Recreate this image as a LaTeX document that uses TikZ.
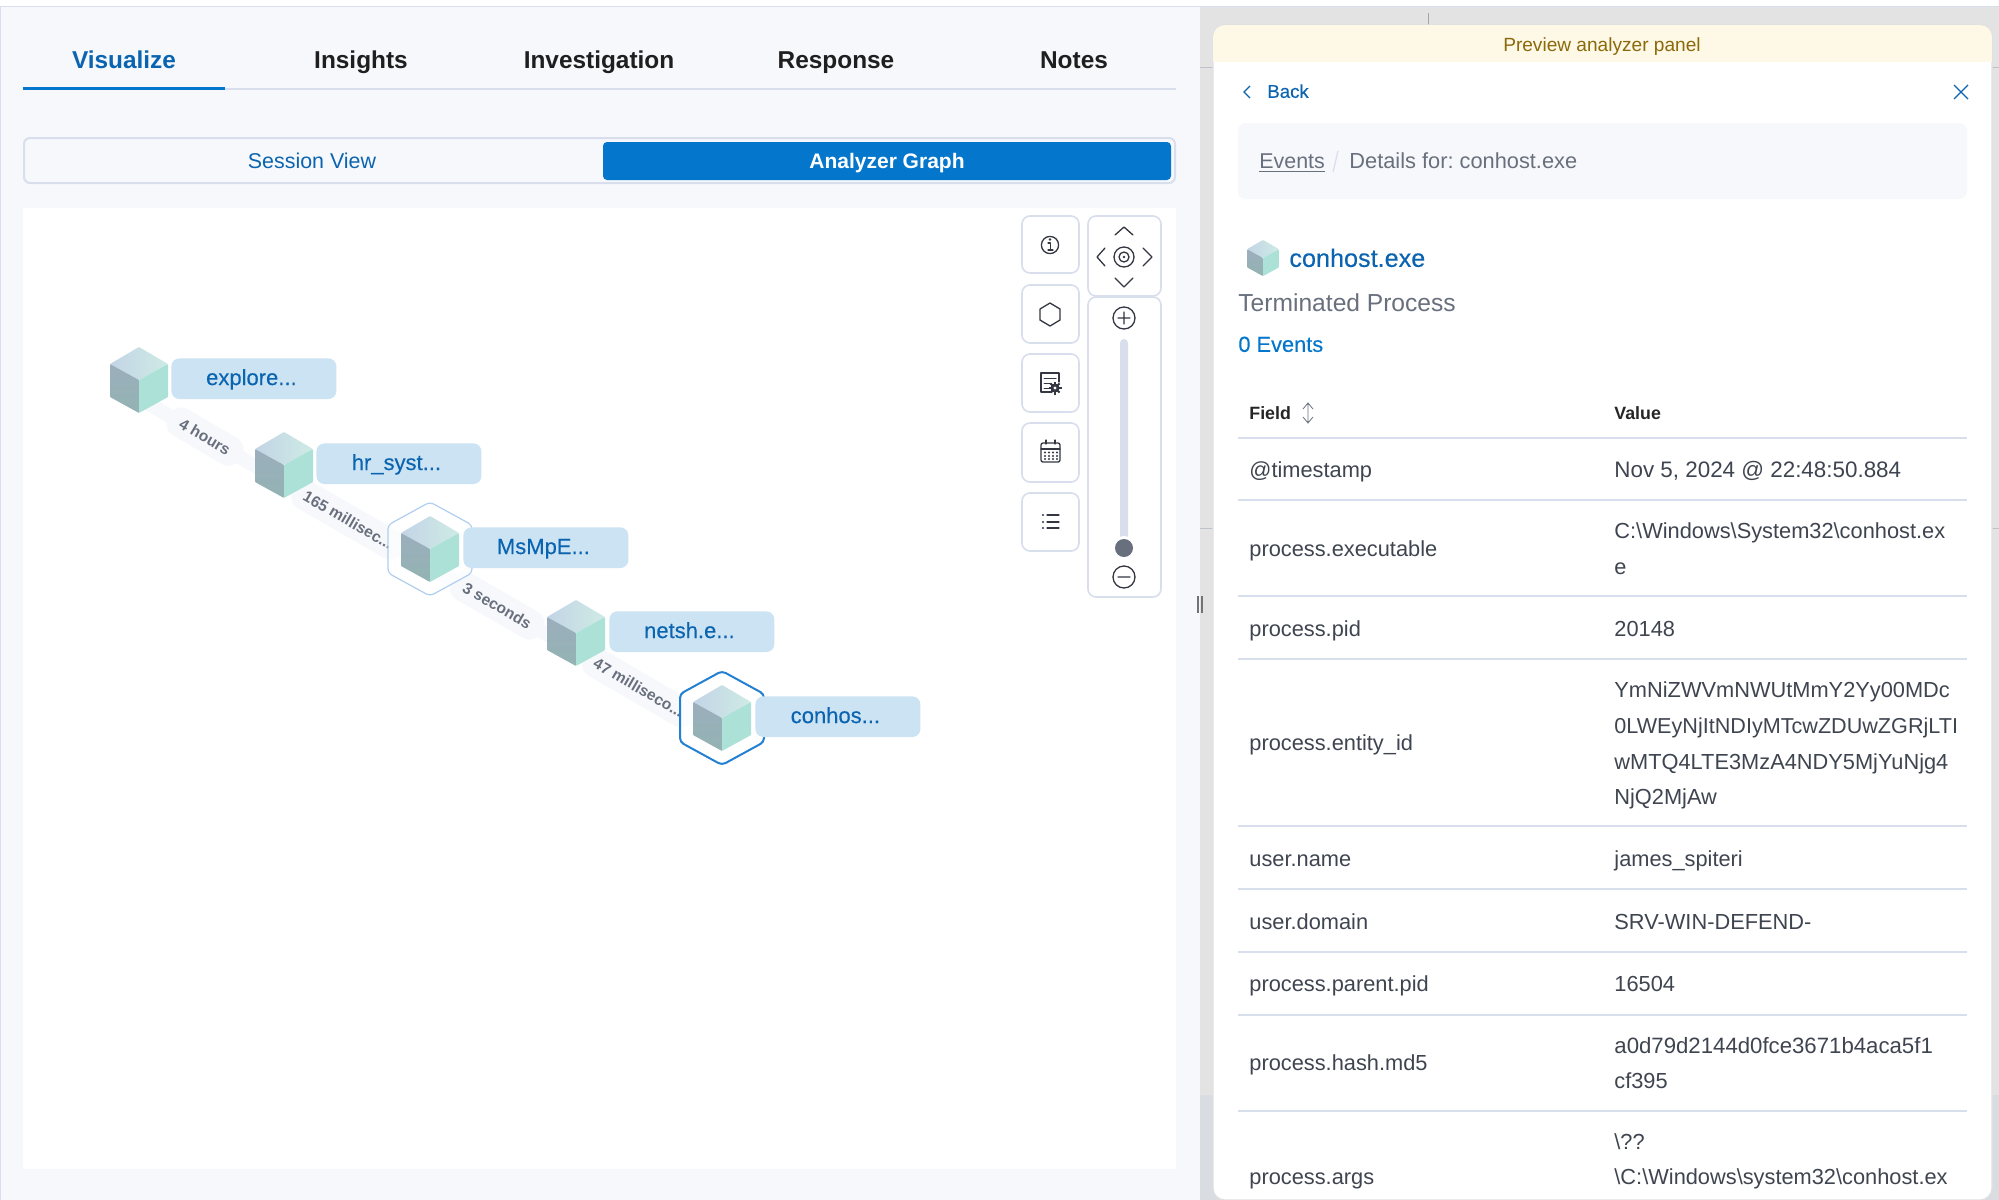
\documentclass[tikz,border=0pt]{standalone}
\usepackage{fontspec}
\setmainfont{Liberation Sans}
\usetikzlibrary{positioning}
\definecolor{pagebg}{HTML}{F7F8FC}
\definecolor{dimbg}{HTML}{E3E3E3}
\definecolor{dimlow}{HTML}{D9DCE0}
\definecolor{rulegray}{HTML}{D8DEEC}
\definecolor{linkblue}{HTML}{0B64B0}
\definecolor{fillblue}{HTML}{0477CC}
\definecolor{labelblue}{HTML}{CCE3F3}
\definecolor{ribbon}{HTML}{F7F8FC}
\definecolor{inktext}{HTML}{3F4550}
\definecolor{subtext}{HTML}{69707D}
\definecolor{iconink}{HTML}{343741}
\definecolor{hexlight}{HTML}{B0CEEE}
\definecolor{hexstrong}{HTML}{2480D0}
\definecolor{bannerbg}{HTML}{FEF8E6}
\definecolor{bannerink}{HTML}{8A6A0A}
\newcommand{\fs}[1]{\fontsize{#1}{#1}\selectfont}
\newcommand{\medw}{\addfontfeatures{FakeBold=.25}}
\tikzset{
  flat/.style={inner sep=0,text height=1.5ex,text depth=.3ex},
  tabtext/.style={flat,font=\fs{12.2}\bfseries,text=black!88},
  plain/.style={flat,anchor=west},
  rowkey/.style={plain,font=\fs{10.9},text=inktext,yshift=-.5pt},
  rowval/.style={rowkey},
  rowrule/.style={draw=rulegray,line width=1pt},
  toolbox/.style={draw=rulegray,fill=white,line width=.8pt,rounded corners=4pt},
  icon/.style={draw=iconink,line width=.65pt,line cap=round,line join=round},
  proc/.style={flat,fill=labelblue,rounded corners=4pt,anchor=north west,
    minimum width=82.5pt,minimum height=20.3pt,text=linkblue,font=\fs{11}\medw,
    execute at end node={\kern2.5pt}},
  edgeline/.style={draw=ribbon,line width=7pt},
  edgetag/.style={fill=ribbon,rounded corners=6pt,sloped,inner sep=0,minimum height=15pt,
    text=subtext,font=\fs{7.8}\bfseries},
  pin/.style={inner sep=0,minimum size=1pt},
  pics/cube/.style={code={
    \shade[left color=cubeA,right color=cubeB,rounded corners=.4pt] (0,-33) -- (29,-16) -- (0,0) -- (-29,-16) -- cycle;
    \shade[top color=cubeC,bottom color=cubeD,rounded corners=.4pt] (-29,-16) -- (0,0) -- (0,33) -- (-29,17) -- cycle;
    \fill[cubeE,rounded corners=.4pt] (29,-16) -- (0,0) -- (0,33) -- (29,17) -- cycle;
  }},
  pics/hexring/.style={code={
    \draw[fill=white,fill opacity=.6,rounded corners=2pt,#1]
      (0,-47) -- (42,-24) -- (42,24) -- (0,47) -- (-42,24) -- (-42,-24) -- cycle;
  }}
}
\definecolor{cubeA}{HTML}{C3D4E6}
\definecolor{cubeB}{HTML}{CEEBE5}
\definecolor{cubeC}{HTML}{9BAEBC}
\definecolor{cubeD}{HTML}{93B3B3}
\definecolor{cubeE}{HTML}{ABE1D7}
\begin{document}
\frenchspacing
\begin{tikzpicture}[x=.5pt,y=-.5pt]
  \useasboundingbox (0,0) rectangle (1999,1200);
  % page
  \fill[white] (0,0) rectangle (1999,1200);
  \fill[pagebg] (0,7) rectangle (1200,1200);
  \fill[dimbg] (1200,7) rectangle (1999,1200);
  \fill[dimlow] (1200,1095) rectangle (1999,1200);
  \draw[rulegray,line width=.8pt] (0,6.5) -- (1999,6.5);
  \draw[rulegray,line width=.5pt] (.5,7) -- (.5,1200);
  \draw[rulegray!70!gray,line width=.5pt] (1200,67) -- (1999,67);
  \draw[rulegray!70!gray,line width=.5pt] (1200,528) -- (1999,528);
  \draw[gray!70,line width=.5pt] (1428,13) -- (1428,30);
  \fill[gray!90!black] (1197,596) rectangle (1199,613);
  \fill[gray!90!black] (1201,596) rectangle (1203,613);

  % tabs
  \node[tabtext,text=linkblue] (tab1) at (124,62.5) {Visualize};
  \node[tabtext] (tab2) at (361,62.5) {Insights};
  \node[tabtext] (tab3) at (599,62.5) {Investigation};
  \node[tabtext] (tab4) at (836,62.5) {Response};
  \node[tabtext] (tab5) at (1074,62.5) {Notes};
  \draw[rulegray,line width=1pt] (23,89) -- (1176,89);
  \draw[fillblue,line width=1.5pt] (23,88.5) -- (225,88.5);

  % view switch
  \draw[rulegray,fill=pagebg,line width=1pt,rounded corners=3pt] (24,138) rectangle (1175,183);
  \fill[fillblue,rounded corners=2pt] (603,142) rectangle (1171,180);
  \node[flat,text=linkblue,font=\fs{10.7}] (session) at (312,162) {Session View};
  \node[flat,text=white,font=\fs{10.5}\bfseries] (analyzer) at (887,162) {Analyzer Graph};

  % canvas
  \fill[white] (23,208) rectangle (1176,1169);

  % tools
  \draw[toolbox] (1022,216) rectangle (1079,273);
  \draw[toolbox] (1022,285) rectangle (1079,343);
  \draw[toolbox] (1022,354) rectangle (1079,412);
  \draw[toolbox] (1022,423) rectangle (1079,482);
  \draw[toolbox] (1022,493) rectangle (1079,551);
  \draw[toolbox] (1088,216) rectangle (1161,296);
  \draw[toolbox] (1088,297) rectangle (1161,597);
  \draw[icon] (1050,245) circle (4.3pt);
  \draw[icon] (1048,243) -- (1050.5,243) -- (1050.5,250) (1048,250) -- (1053,250);
  \fill[iconink] (1050,239.5) circle (.7pt);
  \draw[icon] (1050,303) -- (1060,309) -- (1060,320) -- (1050,326) -- (1040,320) -- (1040,309) -- cycle;
  \draw[icon] (1052,392) -- (1041,392) -- (1041,373) -- (1059,373) -- (1059,382);
  \draw[icon,line width=.5pt] (1044,378) -- (1056,378) (1044,383) -- (1051,383) (1044,388) -- (1049,388);
  \foreach \ga in {0,45,...,135}
    \draw[iconink,line width=1pt] (1055,388) ++(\ga:6.5) -- (1055,388) -- ++(\ga+180:6.5);
  \fill[iconink] (1055,388) circle (2.3pt);
  \fill[white] (1055,388) circle (.8pt);
  \draw[icon,rounded corners=1pt] (1041,443) rectangle (1060,462);
  \draw[icon] (1041,449) -- (1060,449) (1046,440) -- (1046,444) (1055,440) -- (1055,444);
  \foreach \gx in {1045,1049,1053,1057}
    \foreach \gy in {452.5,456,459}
      \fill[iconink] (\gx,\gy) circle (.6pt);
  \foreach \gy in {515,522,528} {
    \draw[icon] (1047,\gy) -- (1059,\gy);
    \fill[iconink] (1043,\gy) circle (.6pt);
  }
  \draw[icon] (1115,235) -- (1124,227) -- (1133,235);
  \draw[icon] (1105,248) -- (1097,257) -- (1105,266);
  \draw[icon] (1143,248) -- (1152,257) -- (1143,266);
  \draw[icon] (1115,278) -- (1124,287) -- (1133,278);
  \draw[icon] (1124,257) circle (5pt) (1124,257) circle (2.5pt);
  \fill[iconink] (1124,257) circle (.7pt);
  \draw[icon] (1124,318) circle (5.5pt) (1124,312) -- (1124,324) (1118,318) -- (1130,318);
  \fill[rulegray,rounded corners=2pt] (1120,339) rectangle (1128,540);
  \fill[white] (1124,548) circle (6pt);
  \fill[subtext] (1124,548) circle (4.5pt);
  \draw[icon] (1124,577) circle (5.5pt) (1118,577) -- (1130,577);

  % graph
  \node[pin] (p1) at (139,380) {};
  \node[pin] (p2) at (284,465) {};
  \node[pin] (p3) at (430,549) {};
  \node[pin] (p4) at (576,633) {};
  \node[pin] (p5) at (722,718) {};
  \coordinate (b1) at (139,398);
  \coordinate (b2) at (284,483);
  \coordinate (b3) at (430,567);
  \coordinate (b4) at (576,651);
  \coordinate (b5) at (722,736);
  \draw[edgeline] (b1) -- (b2);
  \draw[edgeline] (b2) -- (b3);
  \draw[edgeline] (b3) -- (b4);
  \draw[edgeline] (b4) -- (b5);
  \path (b1) -- node[edgetag,pos=.455,minimum width=41pt] (t1) {4 hours} (b2);
  \path (b2) -- node[edgetag,pos=.44,minimum width=62pt] (t2) {165 millisec...} (b3);
  \path (b3) -- node[edgetag,pos=.46,minimum width=51pt] (t3) {3 seconds} (b4);
  \path (b4) -- node[edgetag,pos=.43,minimum width=62pt] (t4) {47 milliseco...} (b5);
  \pic at (p3) {hexring={draw=hexlight,line width=.6pt}};
  \pic at (p5) {hexring={draw=hexstrong,line width=1pt}};
  \pic at (p1) {cube};
  \pic at (p2) {cube};
  \pic at (p3) {cube};
  \pic at (p4) {cube};
  \pic at (p5) {cube};
  \node[proc] (n1) at (171,358) {explore...};
  \node[proc] (n2) at (316,443) {hr\_syst...};
  \node[proc] (n3) at (463,527) {MsMpE...};
  \node[proc] (n4) at (609,611) {netsh.e...};
  \node[proc] (n5) at (755,696) {conhos...};

  % preview panel
  \draw[black!12,fill=white,line width=.6pt,rounded corners=6pt] (1213,25) rectangle (1992,1200);
  \begin{scope}
    \clip[rounded corners=6pt] (1213,25) rectangle (1992,100);
    \fill[bannerbg] (1213,25) rectangle (1992,62);
  \end{scope}
  \node[flat,text=bannerink,font=\fs{9.55}] (banner) at (1602,45.5) {Preview analyzer panel};
  \draw[linkblue,line width=.6pt] (1250,86) -- (1244,92) -- (1250,98);
  \node[plain,text=linkblue,font=\fs{9.3}\medw] (back) at (1267,91.5) {Back};
  \draw[linkblue,line width=.6pt] (1954,85) -- (1968,99) (1968,85) -- (1954,99);
  \fill[ribbon,rounded corners=4pt] (1238,123) rectangle (1967,199);
  \node[plain,text=subtext,font=\fs{10.7}] (crumb1) at (1259,162.5) {\underline{Events}};
  \draw[rulegray,line width=.6pt] (1338,151) -- (1333,172);
  \node[plain,text=subtext,font=\fs{10.9}] (crumb2) at (1349,162.5) {Details for: conhost.exe};
  \node[pin] (p6) at (1263,258) {};
  \pic[scale=.55] at (p6) {cube};
  \node[plain,text=linkblue,font=\fs{12.6}\medw] (title) at (1289,260.5) {conhost.exe};
  \node[plain,text=subtext,font=\fs{12.3}] (kind) at (1238,305.5) {Terminated Process};
  \node[plain,text=fillblue,font=\fs{10.9}\medw] (count) at (1238,345.5) {0 Events};

  % table
  \node[plain,font=\fs{8.9}\bfseries,text=black!85] (hfield) at (1249,413) {Field};
  \node[plain,font=\fs{8.9}\bfseries,text=black!85] (hvalue) at (1614,413) {Value};
  \draw[subtext,line width=.4pt] (1303,409) -- (1308,403) -- (1313,409) (1303,417) -- (1308,423) -- (1313,417) (1308,403) -- (1308,423);
  \draw[rowrule] (1238,438) -- (1967,438);
  \draw[rowrule] (1238,500) -- (1967,500);
  \draw[rowrule] (1238,596) -- (1967,596);
  \draw[rowrule] (1238,659) -- (1967,659);
  \draw[rowrule] (1238,826) -- (1967,826);
  \draw[rowrule] (1238,889) -- (1967,889);
  \draw[rowrule] (1238,952) -- (1967,952);
  \draw[rowrule] (1238,1015) -- (1967,1015);
  \draw[rowrule] (1238,1111) -- (1967,1111);
  \node[rowkey] (k1) at (1249,470) {@timestamp};
  \node[rowkey] (k2) at (1249,549) {process.executable};
  \node[rowkey] (k3) at (1249,629) {process.pid};
  \node[rowkey] (k4) at (1249,743) {process.entity\_id};
  \node[rowkey] (k5) at (1249,859) {user.name};
  \node[rowkey] (k6) at (1249,922) {user.domain};
  \node[rowkey] (k7) at (1249,984) {process.parent.pid};
  \node[rowkey] (k8) at (1249,1063) {process.hash.md5};
  \node[rowkey] (k9) at (1249,1177) {process.args};
  \node[rowval,font=\fs{11.2}] (v1) at (1614,470) {Nov 5, 2024 @ 22:48:50.884};
  \node[rowval] (v2a) at (1614,531) {C:\textbackslash Windows\textbackslash System32\textbackslash conhost.ex};
  \node[rowval] (v2b) at (1614,567) {e};
  \node[rowval] (v3) at (1614,629) {20148};
  \node[rowval] (v4a) at (1614,690) {YmNiZWVmNWUtMmY2Yy00MDc};
  \node[rowval,font=\fs{10.8}] (v4b) at (1614,726) {0LWEyNjItNDIyMTcwZDUwZGRjLTI};
  \node[rowval] (v4c) at (1614,762) {wMTQ4LTE3MzA4NDY5MjYuNjg4};
  \node[rowval] (v4d) at (1614,797) {NjQ2MjAw};
  \node[rowval] (v5) at (1614,859) {james\_spiteri};
  \node[rowval] (v6) at (1614,922) {SRV-WIN-DEFEND-};
  \node[rowval] (v7) at (1614,984) {16504};
  \node[rowval,font=\fs{11.1}] (v8a) at (1614,1046) {a0d79d2144d0fce3671b4aca5f1};
  \node[rowval] (v8b) at (1614,1081) {cf395};
  \node[rowval] (v9a) at (1614,1142) {\textbackslash ??};
  \node[rowval] (v9b) at (1614,1177) {\textbackslash C:\textbackslash Windows\textbackslash system32\textbackslash conhost.ex};
\end{tikzpicture}
\end{document}
